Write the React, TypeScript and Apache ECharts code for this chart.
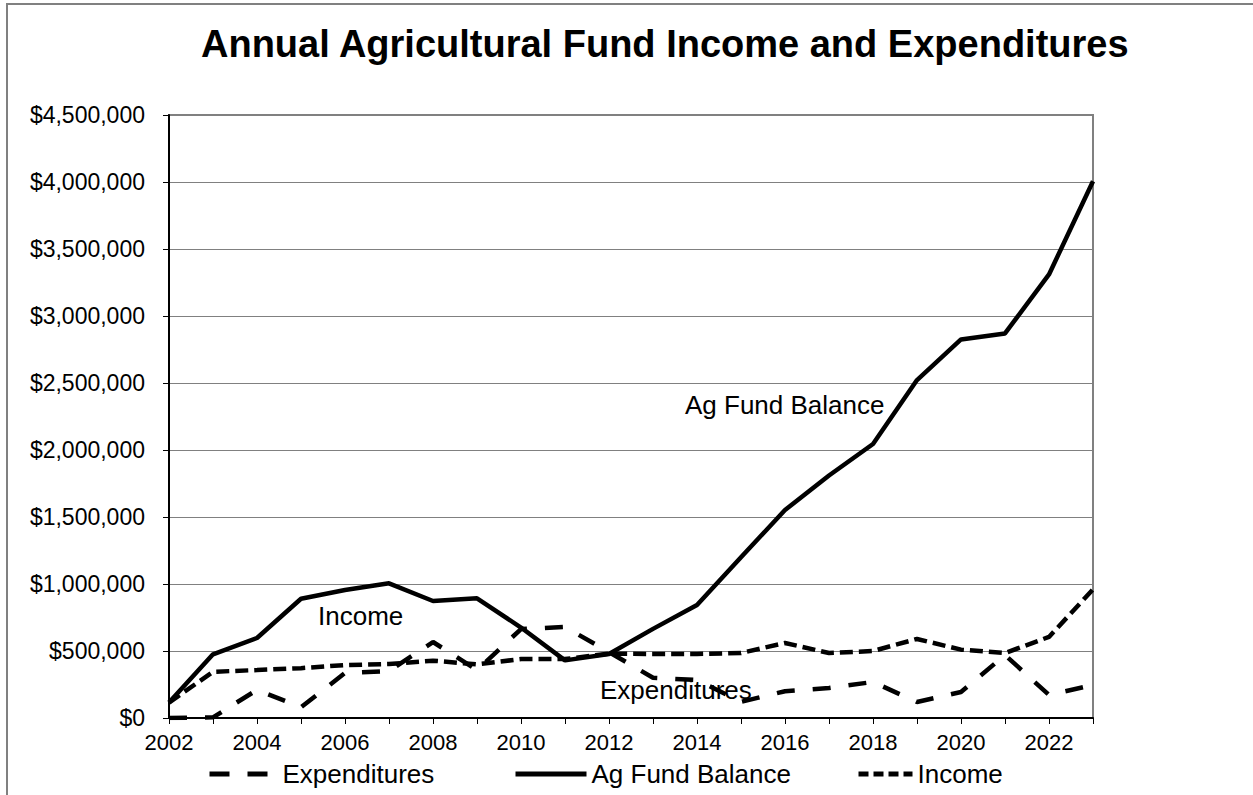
import React, { useEffect, useRef } from "react";
import * as echarts from "echarts";

const years = ["2002","2003","2004","2005","2006","2007","2008","2009","2010","2011","2012","2013","2014","2015","2016","2017","2018","2019","2020","2021","2022","2023"];
const expenditures = [0, 5000, 210000, 80000, 336000, 350000, 567000, 358000, 664000, 679000, 492000, 300000, 284000, 120000, 200000, 224000, 269000, 119000, 194000, 470000, 172000, 246000];
const balance = [115000, 475000, 597000, 890000, 955000, 1005000, 873000, 893000, 675000, 430000, 478000, 665000, 843000, 1200000, 1552000, 1810000, 2045000, 2522000, 2825000, 2870000, 3310000, 4005000];
const income = [115000, 345000, 358000, 372000, 395000, 403000, 428000, 400000, 440000, 440000, 480000, 478000, 478000, 485000, 560000, 485000, 500000, 590000, 510000, 485000, 605000, 960000];

const FONT = "'Liberation Sans', Arial, sans-serif";

export default function App() {
  const ref = useRef<HTMLDivElement>(null);
  useEffect(() => {
    if (!ref.current) return;
    const chart = echarts.init(ref.current, null, { renderer: "svg" });
    const legendBase = {
      orient: "horizontal",
      top: 761,
      padding: 0,
      itemHeight: 14,
      textStyle: { fontSize: 26, color: "#000", fontFamily: FONT },
      itemStyle: { opacity: 0 },
      selectedMode: false,
    };
    chart.setOption({
      animation: false,
      backgroundColor: "#fff",
      title: {
        text: "Annual Agricultural Fund Income and Expenditures",
        left: 196,
        top: 20,
        textStyle: { fontSize: 38, fontWeight: "bold", color: "#000", fontFamily: FONT },
      },
      grid: {
        left: 169,
        right: 160,
        top: 115,
        bottom: 77,
        show: true,
        borderColor: "#808080",
        borderWidth: 2,
        backgroundColor: "transparent",
      },
      legend: [
        { ...legendBase, left: 207, itemWidth: 58, data: ["Expenditures"], lineStyle: { width: 5, type: [20, 18] }, textStyle: { ...legendBase.textStyle, padding: [0, 0, 0, 10] } },
        { ...legendBase, left: 513, itemWidth: 71, data: ["Ag Fund Balance"], lineStyle: { width: 5 } },
        { ...legendBase, left: 856, itemWidth: 54, data: ["Income"], lineStyle: { width: 5, type: [10, 5] } },
      ],
      xAxis: {
        type: "category",
        data: years,
        boundaryGap: false,
        axisLine: { show: true, lineStyle: { color: "#000", width: 2 } },
        axisTick: { show: true, interval: 0, length: 6, lineStyle: { color: "#000" } },
        axisLabel: { interval: 1, fontSize: 22, color: "#000", fontFamily: FONT, margin: 13 },
        splitLine: { show: false },
      },
      yAxis: {
        type: "value",
        min: 0,
        max: 4500000,
        interval: 500000,
        axisLine: { show: true, lineStyle: { color: "#000", width: 2 } },
        axisTick: { show: true, length: 6, lineStyle: { color: "#000" } },
        axisLabel: {
          fontSize: 23,
          color: "#000",
          fontFamily: FONT,
          margin: 24,
          formatter: (v: number) => "$" + v.toLocaleString("en-US"),
        },
        splitLine: { show: true, lineStyle: { color: "#808080", width: 1 } },
      },
      graphic: [
        {
          type: "rect",
          shape: { x: 7, y: 4, width: 1400, height: 1000 },
          style: { fill: "none", stroke: "#808080", lineWidth: 2 },
          silent: true,
        },
        { type: "text", x: 685, y: 405, style: { text: "Ag Fund Balance", fontSize: 26, fill: "#000", fontFamily: FONT, verticalAlign: "middle", align: "left" } },
        { type: "text", x: 318, y: 616, style: { text: "Income", fontSize: 26, fill: "#000", fontFamily: FONT, verticalAlign: "middle", align: "left" } },
        { type: "text", x: 600, y: 690, style: { text: "Expenditures", fontSize: 26, fill: "#000", fontFamily: FONT, verticalAlign: "middle", align: "left" } },
      ],
      series: [
        {
          name: "Expenditures",
          type: "line",
          data: expenditures,
          symbol: "none",
          showSymbol: false,
          lineStyle: { color: "#000", width: 4.5, type: [18, 18] },
          itemStyle: { color: "#000" },
        },
        {
          name: "Ag Fund Balance",
          type: "line",
          data: balance,
          symbol: "none",
          showSymbol: false,
          lineStyle: { color: "#000", width: 4.5, type: "solid" },
          itemStyle: { color: "#000" },
        },
        {
          name: "Income",
          type: "line",
          data: income,
          symbol: "none",
          showSymbol: false,
          lineStyle: { color: "#000", width: 4.5, type: [13, 6] },
          itemStyle: { color: "#000" },
        },
      ],
    });
    return () => chart.dispose();
  }, []);
  return <div ref={ref} style={{ position: "fixed", left: 0, top: 0, width: 1253, height: 795 }} />;
}
